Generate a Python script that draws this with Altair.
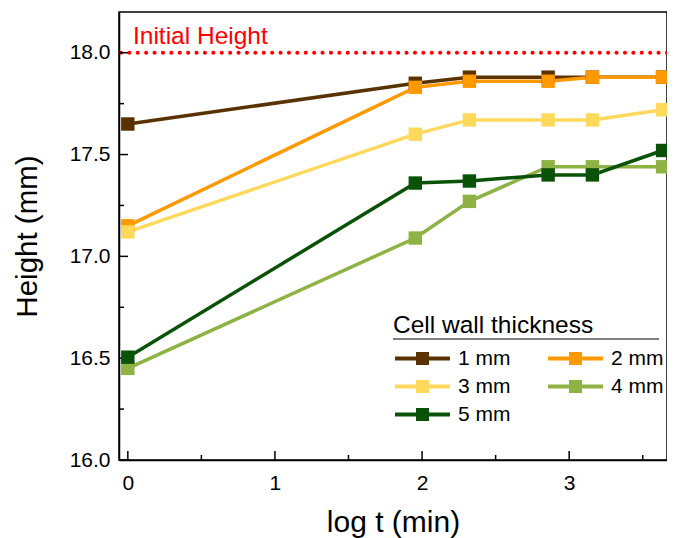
import altair as alt
import pandas as pd

# ---- data ----
log_t = [0.0, 1.954, 2.322, 2.857, 3.158, 3.635]
series_names = ["1 mm", "2 mm", "3 mm", "4 mm", "5 mm"]
h_1mm = [17.65, 17.85, 17.88, 17.88, 17.88, 17.88]
h_2mm = [17.15, 17.83, 17.86, 17.86, 17.88, 17.88]
h_3mm = [17.12, 17.60, 17.67, 17.67, 17.67, 17.72]
h_4mm = [16.45, 17.09, 17.27, 17.44, 17.44, 17.44]
h_5mm = [16.505, 17.36, 17.37, 17.40, 17.40, 17.52]
colors = ["#5a3200", "#ff9900", "#ffd95c", "#8fb244", "#0a5208"]

x_major = [0, 1, 2, 3]
x_minor = [0.5, 1.5, 2.5, 3.5]
y_major = [16.0, 16.5, 17.0, 17.5, 18.0]
y_minor = [16.25, 16.75, 17.25, 17.75]

initial_height = [18.0]
ann_text = ["Initial Height"]
ann_x = [0.035]

# ---- tables ----
rows = []
for name, vals in zip(series_names, [h_1mm, h_2mm, h_3mm, h_4mm, h_5mm]):
    for t, h in zip(log_t, vals):
        rows.append({"series": name, "log_t": t, "height": h})
df = pd.DataFrame(rows)

W, H = 548, 448
FONT = "Liberation Sans"
xscale = alt.Scale(domain=[-0.06, 3.665], nice=False, zero=False)
yscale = alt.Scale(domain=[16.0, 18.2], nice=False, zero=False)

x_axis = alt.Axis(values=x_major, format="d", ticks=False, tickSize=0,
                  labelFontSize=21, labelPadding=12, labelColor="black",
                  domainColor="black", domainWidth=1.5, grid=False,
                  title="log t (min)", titleFontSize=30,
                  titleFontWeight="normal", titleColor="black",
                  titleX=W / 2, titleY=71, titleAlign="center",
                  titleBaseline="alphabetic")
y_axis = alt.Axis(values=y_major, format=".1f", ticks=False, tickSize=0,
                  labelFontSize=21, labelPadding=9, labelColor="black",
                  domainColor="black", domainWidth=1.5, grid=False,
                  title="Height (mm)", titleFontSize=29.5,
                  titleFontWeight="normal", titleColor="black",
                  titleAngle=-90, titleX=-83, titleY=H / 2,
                  titleAlign="center", titleBaseline="alphabetic")

# legend symbol: a line with a filled square made of stacked strokes
sym = ("M-1,0H1 M-0.236,-0.164H0.236 M-0.236,-0.055H0.236 "
       "M-0.236,0.055H0.236 M-0.236,0.164H0.236")

lines = alt.Chart(df).mark_line(
    strokeWidth=3.5,
    point=alt.OverlayMarkDef(shape="square", filled=True, size=180, opacity=1),
).encode(
    x=alt.X("log_t:Q", scale=xscale, axis=x_axis),
    y=alt.Y("height:Q", scale=yscale, axis=y_axis),
    color=alt.Color("series:N",
                    scale=alt.Scale(domain=series_names, range=colors),
                    legend=alt.Legend(
                        title="Cell wall thickness", orient="none",
                        direction="horizontal",
                        legendX=274, legendY=302, columns=2,
                        symbolType=sym, symbolSize=3025, symbolStrokeWidth=4,
                        symbolOpacity=1, clipHeight=26, rowPadding=2,
                        columnPadding=35, labelOffset=6, labelFontSize=21,
                        labelColor="black", titleFontSize=24.5,
                        titleFontWeight="normal", titleColor="black",
                        titleLimit=400, labelLimit=200,
                        titlePadding=7, padding=0)),
)

def tick_rule(vals, axis, length):
    d = pd.DataFrame({"v": vals})
    c = alt.Chart(d).mark_rule(color="black", strokeWidth=1.5)
    if axis == "x":
        return c.encode(x=alt.X("v:Q", scale=xscale, axis=x_axis),
                        y=alt.value(H), y2=alt.value(H - length))
    return c.encode(y=alt.Y("v:Q", scale=yscale, axis=y_axis),
                    x=alt.value(0), x2=alt.value(length))

init_line = alt.Chart(pd.DataFrame({"v": initial_height})).mark_rule(
    color="#ff0000", strokeWidth=4, strokeDash=[0.1, 8.3], strokeCap="round"
).encode(y=alt.Y("v:Q", scale=yscale, axis=y_axis))

init_text = alt.Chart(pd.DataFrame({"x": ann_x, "y": initial_height, "t": ann_text})).mark_text(
    align="left", baseline="alphabetic", dy=-9, fontSize=24.5, color="#ff0000"
).encode(x=alt.X("x:Q", scale=xscale, axis=x_axis),
         y=alt.Y("y:Q", scale=yscale, axis=y_axis), text="t:N")

underline = alt.Chart(pd.DataFrame({"v": [0]})).mark_rule(
    color="black", strokeWidth=1.2
).encode(x=alt.value(274), x2=alt.value(540), y=alt.value(327))

chart = alt.layer(
    init_line,
    tick_rule(x_major, "x", 9), tick_rule(x_minor, "x", 5),
    tick_rule(y_major, "y", 9), tick_rule(y_minor, "y", 5),
    lines, init_text, underline,
).properties(
    width=W, height=H,
    autosize=alt.AutoSizeParams(type="none"),
    padding={"left": 111, "top": 4, "right": 0, "bottom": 78},
).configure(font=FONT).configure_view(stroke="black", strokeWidth=1.5)

chart.save("out.html", embed_options={"renderer": "svg", "actions": False})
